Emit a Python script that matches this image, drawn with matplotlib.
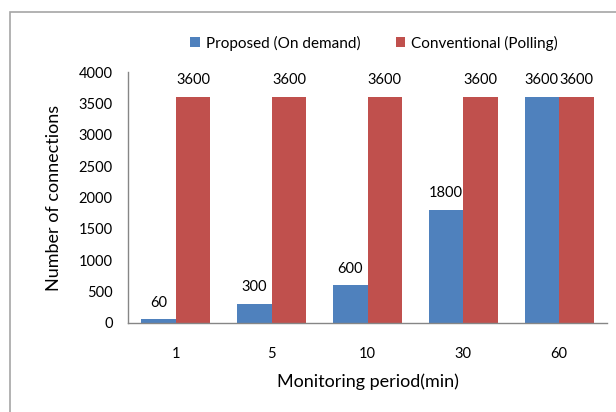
import numpy as np
from matplotlib import pyplot as plt
from matplotlib.patches import Rectangle

# Chart data
periods = ['1', '5', '10', '30', '60']
proposed = [60, 300, 600, 1800, 3600]
conventional = [3600, 3600, 3600, 3600, 3600]

BLUE = '#4F81BD'
RED = '#C0504D'
FONT = 'Lato'

plt.rcParams['font.family'] = [FONT, 'DejaVu Sans']

fig = plt.figure(figsize=(6.16, 4.12), dpi=100)
ax = fig.add_axes([128 / 616, 1 - 323 / 412, 479 / 616, 251 / 412])

# Outer chart frame (cropped at right and bottom like the original)
fig.patches.append(Rectangle((10 / 616, -0.1), 1.2, 1 - 12 / 412 + 0.1,
                             transform=fig.transFigure, fill=False,
                             edgecolor='#a6a6a6', linewidth=1.2))

x = np.arange(len(periods))
w = 0.36
b1 = ax.bar(x - w / 2, proposed, w, color=BLUE, label='Proposed (On demand)')
b2 = ax.bar(x + w / 2, conventional, w, color=RED, label='Conventional (Polling)')

for bars in (b1, b2):
    for rect in bars:
        h = rect.get_height()
        ax.annotate(f'{h:g}', (rect.get_x() + rect.get_width() / 2, h),
                    xytext=(0, 7), textcoords='offset points',
                    ha='center', va='bottom', fontsize=10.5, color='black')

ax.set_xlim(-0.5, len(periods) - 0.5)
ax.set_ylim(0, 4000)
ax.set_yticks(np.arange(0, 4001, 500))
ax.set_xticks(x)
ax.set_xticklabels(periods)
ax.tick_params(axis='both', length=0, labelsize=10.5)
ax.tick_params(axis='y', pad=11)
ax.tick_params(axis='x', pad=17)

for s in ('top', 'right'):
    ax.spines[s].set_visible(False)
for s in ('left', 'bottom'):
    ax.spines[s].set_color('#868686')
    ax.spines[s].set_linewidth(1)

ax.set_xlabel('Monitoring period(min)', fontsize=13, labelpad=9)
ax.set_ylabel('Number of connections', fontsize=13, labelpad=12)

fig.legend(handles=[b1, b2], loc='center', bbox_to_anchor=(374 / 616, 1 - 43 / 412),
           ncol=2, frameon=False, fontsize=11, handlelength=0.65,
           handleheight=0.65, handletextpad=0.35, columnspacing=2.3)

fig.savefig('out.png', dpi=100)
